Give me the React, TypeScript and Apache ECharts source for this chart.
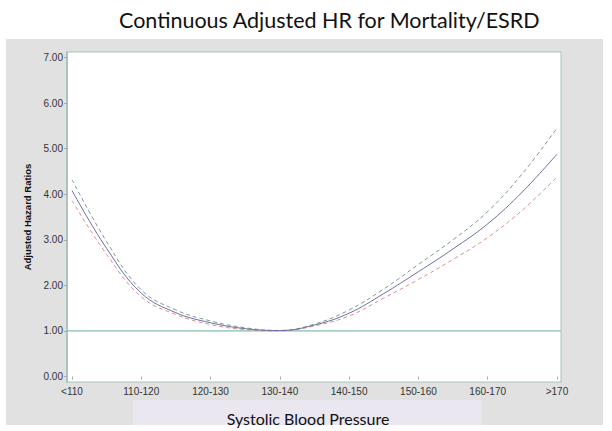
import React, { useEffect, useRef } from "react";
import * as echarts from "echarts";

const categories = ["<110", "110-120", "120-130", "130-140", "140-150", "150-160", "160-170", ">170"];
const xPositions = [0, 0.5, 1, 1.5, 2, 2.5, 3, 3.5, 4, 4.5, 5, 5.5, 6, 6.5, 7];
const hrValues = [4.08, 2.81, 1.83, 1.4, 1.18, 1.05, 1.01, 1.13, 1.39, 1.82, 2.3, 2.8, 3.35, 4.05, 4.88];
const upperValues = [4.32, 2.96, 1.9, 1.46, 1.22, 1.07, 1.01, 1.15, 1.46, 1.92, 2.46, 3.0, 3.62, 4.45, 5.45];
const lowerValues = [3.86, 2.68, 1.75, 1.36, 1.14, 1.03, 1.0, 1.11, 1.33, 1.72, 2.13, 2.57, 3.05, 3.65, 4.38];
const referenceHR = 1;
const yTicks = [0, 1, 2, 3, 4, 5, 6, 7];
const xTicks = [0, 1, 2, 3, 4, 5, 6, 7];
const xMin = -0.072;
const xMax = 7.058;

const pairs = (ys: number[]) => xPositions.map((x, i) => [x, ys[i]]);

export default function App() {
  const ref = useRef<HTMLDivElement>(null);
  useEffect(() => {
    if (!ref.current) return;
    const chart = echarts.init(ref.current, null, { renderer: "svg" });
    chart.setOption({
      animation: false,
      backgroundColor: "#ffffff",
      title: {
        text: "Continuous Adjusted HR for Mortality/ESRD",
        left: 114,
        top: 4,
        textStyle: { fontFamily: "Lato", fontSize: 21.5, fontWeight: "normal", color: "#111" },
      },
      graphic: [
        { type: "rect", z: -10, shape: { x: 6, y: 39, width: 597, height: 386 }, style: { fill: "#e1e1e1" } },
        { type: "rect", z: -9, shape: { x: 133, y: 400, width: 349, height: 25 }, style: { fill: "#ebe7f1" } },
      ],
      grid: { left: 67, right: 51, top: 52, bottom: 47, show: true, backgroundColor: "#ffffff", borderColor: "#a9c4bf", borderWidth: 1 },
      xAxis: {
        type: "value",
        min: xMin,
        max: xMax,
        name: "Systolic Blood Pressure",
        nameLocation: "middle",
        nameGap: 28,
        nameTextStyle: { fontFamily: "Lato", fontSize: 16, color: "#111", padding: [0, 12, 0, 0] },
        axisLine: { show: false },
        splitLine: { show: false },
        axisTick: { show: true, customValues: xTicks, length: 3, inside: false, lineStyle: { color: "#aaa" } },
        axisLabel: {
          customValues: xTicks,
          formatter: (v: number) => categories[Math.round(v)] ?? "",
          fontFamily: "Arial, Liberation Sans",
          fontSize: 10,
          color: "#333",
          margin: 4,
        },
      },
      yAxis: {
        type: "value",
        min: -0.12,
        max: 7.12,
        name: "Adjusted Hazard Ratios",
        nameLocation: "middle",
        nameGap: 34,
        nameTextStyle: { fontFamily: "Arial, Liberation Sans", fontSize: 9.5, fontWeight: "bold", color: "#111" },
        axisLine: { show: true, onZero: false, lineStyle: { color: "#a9c4bf", width: 2 } },
        splitLine: { show: false },
        axisTick: { show: true, customValues: yTicks, length: 3, lineStyle: { color: "#aaa" } },
        axisLabel: {
          customValues: yTicks,
          formatter: (v: number) => v.toFixed(2),
          fontFamily: "Arial, Liberation Sans",
          fontSize: 10,
          color: "#333",
          margin: 4,
        },
      },
      series: [
        {
          type: "line",
          name: "Reference",
          data: [[xMin, referenceHR], [xMax, referenceHR]],
          symbol: "none",
          silent: true,
          lineStyle: { color: "#86bcb0", width: 1.2 },
          z: 2,
        },
        {
          type: "line",
          name: "Upper",
          data: pairs(upperValues),
          smooth: 0.4,
          symbol: "none",
          lineStyle: { color: "#7d9a93", width: 1, type: [4, 3] },
          z: 3,
        },
        {
          type: "line",
          name: "HR",
          data: pairs(hrValues),
          smooth: 0.4,
          symbol: "none",
          lineStyle: { color: "#6e6ea6", width: 1 },
          z: 4,
        },
        {
          type: "line",
          name: "Lower",
          data: pairs(lowerValues),
          smooth: 0.4,
          symbol: "none",
          lineStyle: { color: "#dc8f91", width: 1, type: [4, 3] },
          z: 3,
        },
      ],
    });
    return () => chart.dispose();
  }, []);
  return <div ref={ref} style={{ position: "fixed", left: 0, top: 0, width: 612, height: 431 }} />;
}
